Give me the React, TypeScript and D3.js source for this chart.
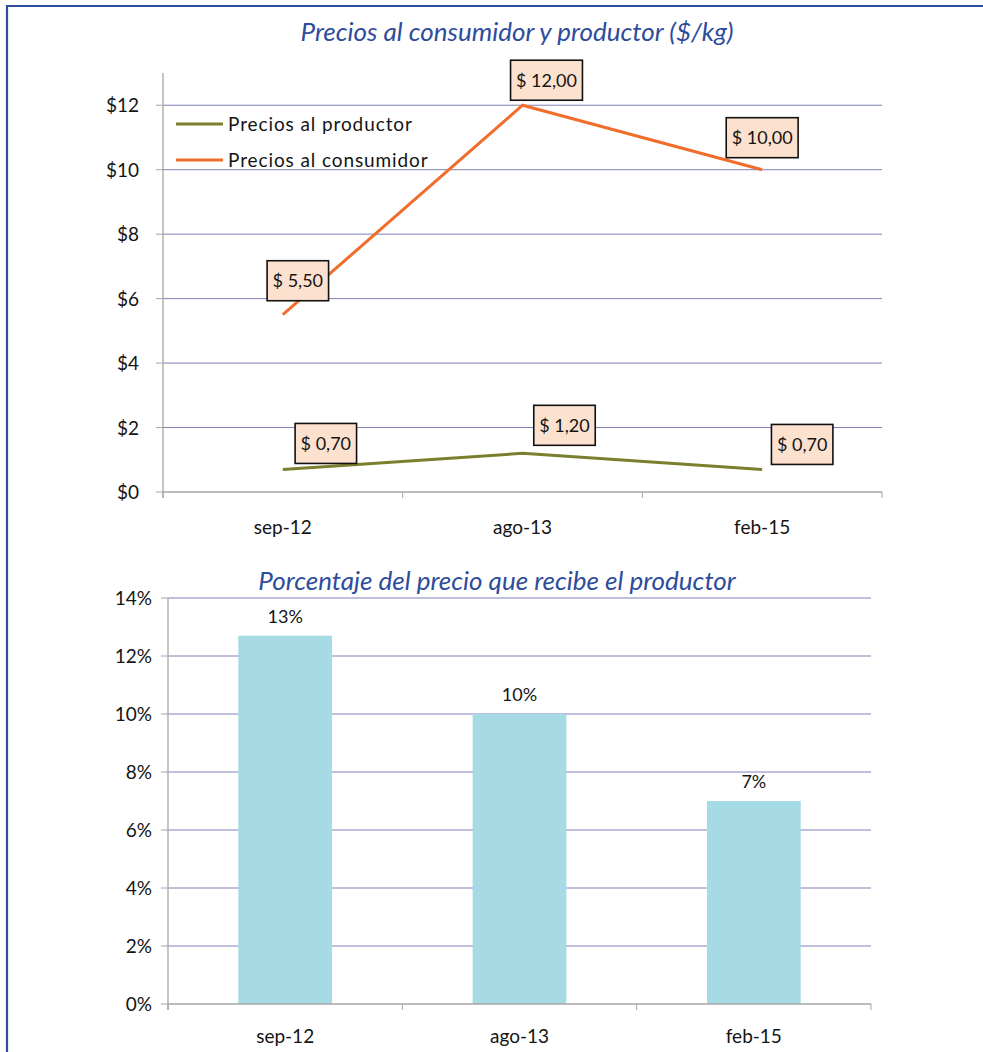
import React, { useEffect, useRef } from "react";
import * as d3 from "d3";

// Periods shown on both charts
const periods = ["sep-12", "ago-13", "feb-15"];

// Prices in $/kg
const producerPrices = [0.7, 1.2, 0.7];
const consumerPrices = [5.5, 12.0, 10.0];

// Share of the consumer price received by the producer
const producerShare = [0.127, 0.1, 0.07];

// Axis ticks
const priceTicks = [0, 2, 4, 6, 8, 10, 12];
const shareTicks = [0, 0.02, 0.04, 0.06, 0.08, 0.1, 0.12, 0.14];

// Placement of the boxed price labels relative to their points (dx, dy of box centre)
const consumerLabelOffsets = [
  [15, -34],
  [24, -25],
  [0, -32],
];
const producerLabelOffsets = [
  [43, -26],
  [42, -28],
  [40, -25],
];

const FONT = "Lato, 'Noto Sans', sans-serif";
const TITLE_BLUE = "#2E4C9C";
const GRID = "#7C80B8";
const AXIS = "#A6A6A6";
const OLIVE = "#7A7F2E";
const ORANGE = "#F26D2B";
const BAR = "#A6DBE6";
const LABEL_FILL = "#FCE1CE";
const INK = "#141414";

const fmtPrice = (v: number) => "$ " + v.toFixed(2).replace(".", ",");
const fmtShare = (v: number) => Math.round(v * 100) + "%";

export default function App() {
  const ref = useRef<SVGSVGElement>(null);

  useEffect(() => {
    const svg = d3.select(ref.current);
    svg.selectAll("*").remove();

    // Frame
    svg
      .append("path")
      .attr("d", "M7,1052 V6 H983")
      .attr("fill", "none")
      .attr("stroke", "#2F4D9E")
      .attr("stroke-width", 2.2);

    // ---------- Price lines ----------
    const top = { left: 163, right: 882, top: 73, bottom: 492 };
    const x1 = d3.scaleBand().domain(periods).range([top.left, top.right]);
    const cx1 = (p: string) => (x1(p) as number) + x1.bandwidth() / 2;
    const y1 = d3.scaleLinear().domain([0, 13]).range([top.bottom, top.top]);

    svg
      .append("text")
      .attr("x", 517)
      .attr("y", 41)
      .attr("text-anchor", "middle")
      .attr("font-family", FONT)
      .attr("font-style", "italic")
      .attr("font-size", 26)
      .attr("fill", TITLE_BLUE)
      .text("Precios al consumidor y productor ($/kg)");

    const g1 = svg.append("g");
    g1.selectAll("line.grid")
      .data(priceTicks.filter((t) => t > 0))
      .join("line")
      .attr("x1", top.left)
      .attr("x2", top.right)
      .attr("y1", (d) => y1(d))
      .attr("y2", (d) => y1(d))
      .attr("stroke", GRID)
      .attr("stroke-width", 1);

    // y axis
    g1.append("line")
      .attr("x1", top.left)
      .attr("x2", top.left)
      .attr("y1", top.top)
      .attr("y2", top.bottom + 6)
      .attr("stroke", AXIS)
      .attr("stroke-width", 1.3);
    g1.selectAll("line.yt")
      .data(priceTicks)
      .join("line")
      .attr("x1", top.left - 7)
      .attr("x2", top.left)
      .attr("y1", (d) => y1(d))
      .attr("y2", (d) => y1(d))
      .attr("stroke", AXIS);
    g1.selectAll("text.yl")
      .data(priceTicks)
      .join("text")
      .attr("x", 139)
      .attr("y", (d) => y1(d) + 7)
      .attr("text-anchor", "end")
      .attr("font-family", FONT)
      .attr("font-size", 19)
      .attr("fill", INK)
      .text((d) => "$" + d);

    // x axis
    g1.append("line")
      .attr("x1", top.left)
      .attr("x2", top.right)
      .attr("y1", top.bottom)
      .attr("y2", top.bottom)
      .attr("stroke", AXIS)
      .attr("stroke-width", 1.3);
    const xTicks1 = [...periods.map((p) => x1(p) as number), top.right];
    g1.selectAll("line.xt")
      .data(xTicks1)
      .join("line")
      .attr("x1", (d) => d)
      .attr("x2", (d) => d)
      .attr("y1", top.bottom)
      .attr("y2", top.bottom + 6)
      .attr("stroke", AXIS);
    g1.selectAll("text.xl")
      .data(periods)
      .join("text")
      .attr("x", (d) => cx1(d))
      .attr("y", 534)
      .attr("text-anchor", "middle")
      .attr("font-family", FONT)
      .attr("font-size", 19)
      .attr("fill", INK)
      .text((d) => d);

    const line = d3
      .line<number>()
      .x((_, i) => cx1(periods[i]))
      .y((d) => y1(d));

    const series = [
      { name: "Precios al productor", values: producerPrices, color: OLIVE, offsets: producerLabelOffsets },
      { name: "Precios al consumidor", values: consumerPrices, color: ORANGE, offsets: consumerLabelOffsets },
    ];

    series.forEach((s) => {
      g1.append("path")
        .attr("d", line(s.values))
        .attr("fill", "none")
        .attr("stroke", s.color)
        .attr("stroke-width", 3);
    });

    // Boxed value labels
    series.forEach((s) => {
      s.values.forEach((v, i) => {
        const px = cx1(periods[i]) + s.offsets[i][0];
        const py = y1(v) + s.offsets[i][1];
        const lg = g1.append("g");
        const rect = lg.append("rect");
        const t = lg
          .append("text")
          .attr("x", px)
          .attr("y", py + 6.5)
          .attr("text-anchor", "middle")
          .attr("font-family", FONT)
          .attr("font-size", 18)
          .attr("fill", INK)
          .text(fmtPrice(v));
        const w = (t.node() as SVGTextElement).getComputedTextLength() + 11;
        rect
          .attr("x", px - w / 2)
          .attr("y", py - 20)
          .attr("width", w)
          .attr("height", 40)
          .attr("fill", LABEL_FILL)
          .attr("stroke", "#111")
          .attr("stroke-width", 1.6);
      });
    });

    // Legend
    series.forEach((s, i) => {
      const ly = 124 + i * 36;
      g1.append("line")
        .attr("x1", 176)
        .attr("x2", 223)
        .attr("y1", ly)
        .attr("y2", ly)
        .attr("stroke", s.color)
        .attr("stroke-width", 3);
      g1.append("text")
        .attr("x", 228)
        .attr("y", ly + 7)
        .attr("font-family", FONT)
        .attr("font-size", 19)
        .attr("letter-spacing", 0.9)
        .attr("fill", INK)
        .text(s.name);
    });

    // ---------- Producer share bars ----------
    const bot = { left: 168, right: 871, top: 598, bottom: 1004 };
    const x2 = d3
      .scaleBand()
      .domain(periods)
      .range([bot.left, bot.right])
      .paddingInner(0.6)
      .paddingOuter(0.3);
    const y2 = d3.scaleLinear().domain([0, 0.14]).range([bot.bottom, bot.top]);

    svg
      .append("text")
      .attr("x", 497)
      .attr("y", 590)
      .attr("text-anchor", "middle")
      .attr("font-family", FONT)
      .attr("font-style", "italic")
      .attr("font-size", 26)
      .attr("fill", TITLE_BLUE)
      .text("Porcentaje del precio que recibe el productor");

    const g2 = svg.append("g");
    g2.selectAll("line.grid")
      .data(shareTicks.filter((t) => t > 0))
      .join("line")
      .attr("x1", bot.left)
      .attr("x2", bot.right)
      .attr("y1", (d) => y2(d))
      .attr("y2", (d) => y2(d))
      .attr("stroke", GRID)
      .attr("stroke-width", 1);

    g2.selectAll("rect.bar")
      .data(producerShare)
      .join("rect")
      .attr("x", (_, i) => x2(periods[i]) as number)
      .attr("y", (d) => y2(d))
      .attr("width", x2.bandwidth())
      .attr("height", (d) => bot.bottom - y2(d))
      .attr("fill", BAR);

    g2.selectAll("text.val")
      .data(producerShare)
      .join("text")
      .attr("x", (_, i) => (x2(periods[i]) as number) + x2.bandwidth() / 2)
      .attr("y", (d) => y2(d) - 13)
      .attr("text-anchor", "middle")
      .attr("font-family", FONT)
      .attr("font-size", 18)
      .attr("fill", INK)
      .text((d) => fmtShare(d));

    g2.append("line")
      .attr("x1", bot.left)
      .attr("x2", bot.left)
      .attr("y1", bot.top)
      .attr("y2", bot.bottom + 6)
      .attr("stroke", AXIS)
      .attr("stroke-width", 1.3);
    g2.selectAll("line.yt")
      .data(shareTicks)
      .join("line")
      .attr("x1", bot.left - 7)
      .attr("x2", bot.left)
      .attr("y1", (d) => y2(d))
      .attr("y2", (d) => y2(d))
      .attr("stroke", AXIS);
    g2.selectAll("text.yl")
      .data(shareTicks)
      .join("text")
      .attr("x", 152)
      .attr("y", (d) => y2(d) + 7)
      .attr("text-anchor", "end")
      .attr("font-family", FONT)
      .attr("font-size", 19)
      .attr("fill", INK)
      .text((d) => fmtShare(d));

    g2.append("line")
      .attr("x1", bot.left)
      .attr("x2", bot.right)
      .attr("y1", bot.bottom)
      .attr("y2", bot.bottom)
      .attr("stroke", AXIS)
      .attr("stroke-width", 1.3);
    const xTicks2 = [...periods.map((_, i) => bot.left + i * x2.step()), bot.right];
    g2.selectAll("line.xt")
      .data(xTicks2)
      .join("line")
      .attr("x1", (d) => d)
      .attr("x2", (d) => d)
      .attr("y1", bot.bottom)
      .attr("y2", bot.bottom + 6)
      .attr("stroke", AXIS);
    g2.selectAll("text.xl")
      .data(periods)
      .join("text")
      .attr("x", (d) => (x2(d) as number) + x2.bandwidth() / 2)
      .attr("y", 1043)
      .attr("text-anchor", "middle")
      .attr("font-family", FONT)
      .attr("font-size", 19)
      .attr("fill", INK)
      .text((d) => d);
  }, []);

  return (
    <svg
      ref={ref}
      width={983}
      height={1052}
      style={{ position: "absolute", left: 0, top: 0, background: "#fff" }}
    />
  );
}
